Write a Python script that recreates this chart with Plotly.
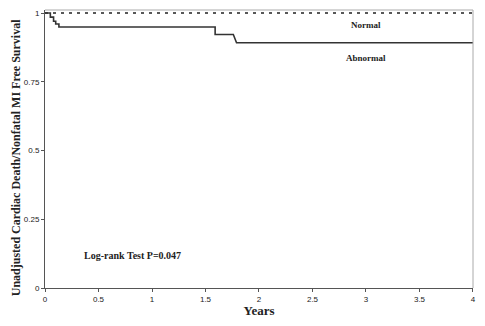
import plotly.graph_objects as go

# Data
abn_years = [0, 0.05, 0.05, 0.08, 0.08, 0.10, 0.10, 0.13, 0.13, 1.59, 1.59, 1.76, 1.79, 4.0]
abn_surv  = [1.0, 1.0, 0.985, 0.985, 0.97, 0.97, 0.96, 0.96, 0.949, 0.949, 0.922, 0.922, 0.892, 0.892]
norm_years = [0, 4.0]
norm_surv = [1.0, 1.0]
x_ticks = [0, 0.5, 1, 1.5, 2, 2.5, 3, 3.5, 4]
x_ticklabels = ["0", "0.5", "1", "1.5", "2", "2.5", "3", "3.5", "4"]
y_ticks = [0, 0.25, 0.5, 0.75, 1]
y_ticklabels = ["0", "0.25", "0.5", "0.75", "1"]

serif = "Liberation Serif, Times New Roman, serif"
sans = "Liberation Sans, Arial, sans-serif"

fig = go.Figure()
fig.add_trace(go.Scatter(x=norm_years, y=norm_surv, mode="lines",
                         line=dict(color="#222222", width=1.6, dash="3px,5px"),
                         showlegend=False, hoverinfo="skip", cliponaxis=False))
fig.add_trace(go.Scatter(x=abn_years, y=abn_surv, mode="lines",
                         line=dict(color="#333333", width=1.6),
                         showlegend=False, hoverinfo="skip"))

fig.add_annotation(x=3.0, y=0.956, text="<b>Normal</b>", showarrow=False,
                   font=dict(family=serif, size=9, color="#222"))
fig.add_annotation(x=3.0, y=0.836, text="<b>Abnormal</b>", showarrow=False,
                   font=dict(family=serif, size=9, color="#222"))
fig.add_annotation(x=0.82, y=0.12, text="<b>Log-rank Test P=0.047</b>", showarrow=False,
                   font=dict(family=serif, size=10, color="#222"))
# y-axis title (placed as annotation to match the reference's position)
fig.add_annotation(xref="paper", yref="paper", x=-0.068, y=0.47, xanchor="center", yanchor="middle",
                   text="<b>Unadjusted Cardiac Death/Nonfatal MI Free Survival</b>",
                   textangle=-90, showarrow=False,
                   font=dict(family=serif, size=12, color="#222"))

# page body has an 8px default margin; size the figure to fit the 485x326 window
fig.update_layout(
    width=469, height=310,
    margin=dict(l=37, r=4, t=2, b=30),
    paper_bgcolor="white", plot_bgcolor="white",
    xaxis=dict(range=[0, 4.0001], tickvals=x_ticks, ticktext=x_ticklabels,
               showgrid=False, zeroline=False, showline=True, linecolor="#555",
               linewidth=1, ticks="outside", ticklen=3, tickcolor="#555",
               tickfont=dict(family=sans, size=8, color="#222"),
               automargin=False,
               title=dict(text="<b>Years</b>", font=dict(family=serif, size=13, color="#222"),
                          standoff=6)),
    yaxis=dict(range=[0, 1.011], tickvals=y_ticks, ticktext=y_ticklabels,
               showgrid=False, zeroline=False, showline=True, linecolor="#555",
               linewidth=1, ticks="outside", ticklen=3, tickcolor="#555",
               tickfont=dict(family=sans, size=8, color="#222"),
               automargin=False),
)
# light gray top and right frame
fig.add_shape(type="line", xref="paper", yref="paper", x0=0, x1=1, y0=1, y1=1,
              line=dict(color="#aaaaaa", width=1))
fig.add_shape(type="line", xref="paper", yref="paper", x0=1, x1=1, y0=0, y1=1,
              line=dict(color="#aaaaaa", width=1))

fig.write_html("out.html")
